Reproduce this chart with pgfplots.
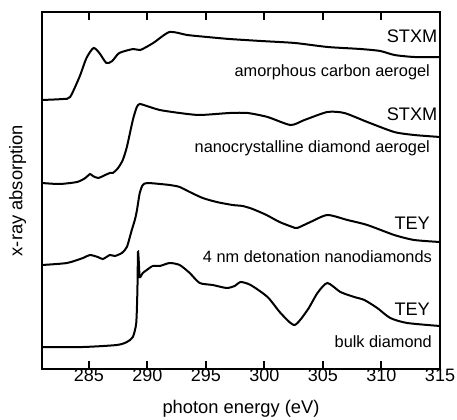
\documentclass[border=0pt]{standalone}
\usepackage{fontspec}
\setmainfont{Liberation Sans}
\usepackage{pgfplots}
\pgfplotsset{compat=1.18}

% y values are plotted as negative pixel rows (arbitrary absorption units, stacked)
\begin{document}
\begin{tikzpicture}
\begin{axis}[
  scale only axis, width=238.8pt, height=214.2pt,
  xmin=281, xmax=315, ymin=-369, ymax=-12,
  axis lines=box,
  xtick={285,290,...,315}, ytick=\empty,
  tick align=inside, xtick pos=both, major tick length=4.8pt,
  axis line style={draw=black, line width=1.2pt},
  every tick/.append style={draw=black, line width=1.2pt},
  /pgf/number format/assume math mode=true,
  tick label style={font=\fontsize{10.8}{12}\selectfont, inner sep=0pt},
  xlabel={photon energy (eV)}, ylabel={x-ray absorption},
  label style={font=\fontsize{11}{13}\selectfont},
  xlabel style={at={(axis description cs:0.5,0)}, anchor=base, yshift=-26.4pt},
  ylabel style={at={(axis description cs:-0.049,0.5)}, anchor=base},
  cycle list={{black}},
  every axis plot/.append style={line width=1.2pt, no markers, smooth, tension=0.4},
  clip=false
]
% amorphous carbon aerogel (STXM)
\addplot coordinates {
 (281.0,-100) (282.8,-99) (283.4,-97) (284.2,-77) (284.8,-58) (285.4,-48)
 (285.9,-53) (286.5,-63) (287.0,-61) (287.6,-53) (288.8,-49) (289.4,-50)
 (290.5,-43) (291.9,-32) (293.4,-35) (295.1,-37) (297.0,-39) (299.7,-41)
 (302.6,-43) (305.4,-47) (308.2,-49) (309.9,-51) (311.1,-55) (312.8,-57) (315.0,-57)};
% nanocrystalline diamond aerogel (STXM)
\addplot coordinates {
 (281.0,-183) (282.5,-184) (284.0,-182) (284.7,-178) (285.1,-174) (285.35,-176)
 (285.8,-178) (286.4,-175) (286.8,-173) (287.05,-173) (287.5,-168) (287.9,-160)
 (288.25,-147) (288.76,-120) (289.1,-107) (289.35,-104) (289.95,-106) (291.06,-110)
 (292.76,-113) (294.47,-115) (297.03,-113) (298.56,-113) (300.27,-117) (302.23,-125)
 (303.42,-120) (305.38,-112) (306.83,-113) (308.79,-122) (311.09,-132) (312.8,-135) (315.0,-137)};
% 4 nm detonation nanodiamonds (TEY)
\addplot coordinates {
 (281.0,-265) (283.13,-263) (284.5,-258) (285.09,-255) (285.77,-257) (286.2,-259)
 (286.8,-255) (287.22,-256) (287.82,-253) (288.25,-247) (288.67,-230) (288.93,-220)
 (289.1,-211) (289.35,-193) (289.61,-185) (290.04,-183) (291.91,-185) (292.76,-187)
 (293.62,-192) (294.73,-198) (295.92,-202) (297.28,-205) (298.14,-206) (298.99,-209)
 (300.18,-215) (301.29,-222) (302.4,-227) (302.8,-228) (303.93,-222) (305.38,-215)
 (307.09,-220) (308.79,-225) (311.09,-235) (312.8,-240) (315.0,-242)};
% bulk diamond (TEY)
\addplot coordinates {
 (281.0,-347) (284.5,-347) (287.39,-345) (288.25,-342) (288.76,-337) (289.05,-323)
 (289.15,-290) (289.2,-252) (289.27,-262) (289.35,-277) (289.61,-273) (289.95,-270)
 (290.46,-266) (291.06,-266) (291.91,-263) (292.76,-265) (293.62,-273) (294.47,-283)
 (295.58,-285) (296.77,-288) (297.45,-286) (297.97,-282) (298.82,-285) (300.27,-297)
 (301.38,-313) (302.57,-325) (303.68,-310) (304.53,-293) (305.38,-283) (306.49,-292)
 (307.68,-297) (308.54,-300) (309.64,-308) (310.75,-318) (312.2,-323) (315.0,-326)};

\begin{scope}[every node/.style={inner sep=0pt, anchor=base east}]
\node[font=\fontsize{10.9}{12}\selectfont] at (axis cs:314.8,-43) {STXM};
\node[font=\fontsize{9.8}{11}\selectfont] at (axis cs:314.16,-77) {amorphous carbon aerogel};
\node[font=\fontsize{10.9}{12}\selectfont] at (axis cs:314.8,-121) {STXM};
\node[font=\fontsize{9.8}{11}\selectfont] at (axis cs:314.16,-153) {nanocrystalline diamond aerogel};
\node[font=\fontsize{10.9}{12}\selectfont] at (axis cs:314.16,-229) {TEY};
\node[font=\fontsize{9.8}{11}\selectfont] at (axis cs:314.33,-262) {4 nm detonation nanodiamonds};
\node[font=\fontsize{10.9}{12}\selectfont] at (axis cs:314.16,-315) {TEY};
\node[font=\fontsize{9.8}{11}\selectfont] at (axis cs:314.33,-347) {bulk diamond};
\end{scope}
\end{axis}
\pgfresetboundingbox
\useasboundingbox ([shift={(-25.2pt,-30pt)}]current axis.south west) rectangle ([shift={(10.2pt,7.2pt)}]current axis.north east);
\end{tikzpicture}
\end{document}
